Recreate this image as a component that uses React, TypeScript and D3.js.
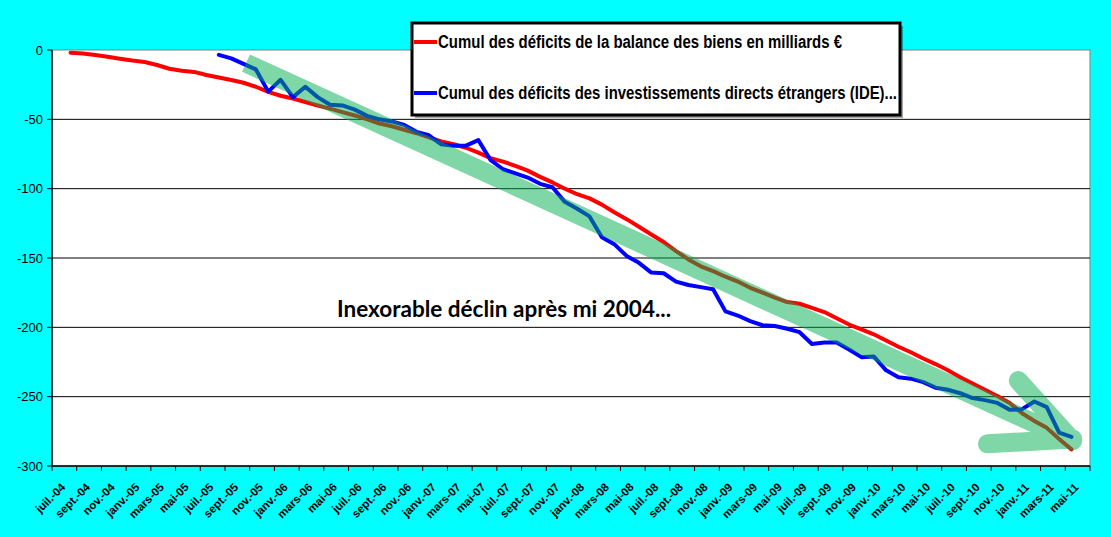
import React from "react";
import * as d3 from "d3";

// month abbreviations as Excel (fr) prints them
const monthNames = ["janv.", "févr.", "mars", "avr.", "mai", "juin", "juil.", "août", "sept.", "oct.", "nov.", "déc."];
const firstYear = 2004;
const firstMonth = 6; // juil.
const monthCount = 84; // juil.-04 .. juin-11

const categories: string[] = [];
for (let k = 0; k < monthCount; k++) {
  const m = (firstMonth + k) % 12;
  const y = firstYear + Math.floor((firstMonth + k) / 12);
  categories.push(`${monthNames[m]}-${String(y).slice(2)}`);
}

const yTicks = [0, -50, -100, -150, -200, -250, -300];

// cumul balance des biens, from août-04
const redStart = 1;
const redValues = [
  -1.9, -2.6, -3.6, -4.8, -6.3, -7.6, -8.7, -10.8, -13.5, -14.9,
  -15.8, -18, -19.8, -21.6, -23.6, -26.5, -30.2, -33, -35, -37.5,
  -40, -42.3, -44.8, -47.2, -50, -53, -55, -57.5, -60, -63,
  -66, -68, -70.5, -74, -78, -80.5, -83.5, -87, -91.5, -95.5,
  -100, -104, -107, -111.5, -117, -122, -127.5, -133, -138.5, -145,
  -151, -156, -159.5, -163.5, -167, -171.5, -175, -178.5, -181.8, -183,
  -186, -189, -193.5, -198, -201.5, -205, -209.5, -214, -218, -222.5,
  -226.5, -231, -236, -240.5, -245, -249.5, -254.5, -262, -267.5, -272.5,
  -280.5, -288,
];

// cumul IDE, from août-05
const blueStart = 13;
const blueValues = [
  -3.5, -6, -10, -14, -30, -21.5, -34, -26.5, -34, -39.5,
  -40, -43, -47.5, -50, -51.5, -54, -59, -61.5, -68, -69,
  -69, -65, -79.5, -86, -89, -92, -96.5, -99, -109.5, -114.5,
  -120, -135, -140, -148.5, -153.5, -160.5, -161, -167, -169.5, -171,
  -172.5, -188.5, -191.5, -195.5, -198.5, -199, -201, -203.5, -212, -211,
  -211, -216, -221.5, -221, -231, -236, -237, -239.5, -243.5, -245,
  -247.5, -251, -252.5, -254.5, -259.5, -259, -253.5, -257.5, -276, -279,
];

const seriesNames = [
  "Cumul des déficits de la balance des biens en milliards €",
  "Cumul des déficits des investissements directs étrangers (IDE)...",
];
const seriesColors = ["#ff0000", "#0000ff"];
const legendWidths = [404, 459]; // rendered widths of the legend labels

// trend arrow annotation, in (category index, value)
const arrowShaft = [[15.2, -9.4], [82.1, -281.8]];
const arrowArms = [[[77.7, -238.4], [82.1, -281.8]], [[75.2, -284], [82.1, -280.5]]];

const W = 1111;
const H = 537;
const plot = { left: 52, right: 1090, top: 50, bottom: 466 };

export default function App() {
  const x = d3.scaleBand<number>().domain(d3.range(monthCount)).range([plot.left, plot.right]).padding(0);
  const bw = x.bandwidth();
  const xc = (i: number) => plot.left + (i + 0.5) * bw;
  const y = d3.scaleLinear().domain([-300, 0]).range([plot.bottom, plot.top]);

  const line = d3
    .line<[number, number]>()
    .x((d) => xc(d[0]))
    .y((d) => y(d[1]));

  const red = redValues.map((v, k) => [redStart + k, v] as [number, number]);
  const blue = blueValues.map((v, k) => [blueStart + k, v] as [number, number]);

  const ax = "'Liberation Sans', Arial, sans-serif";

  return (
    <svg width={W} height={H} style={{ position: "absolute", left: 0, top: 0, display: "block" }}>
      <rect x={0} y={0} width={W} height={H} fill="#00ffff" />
      <rect x={plot.left} y={plot.top} width={plot.right - plot.left} height={plot.bottom - plot.top} fill="#fff" stroke="#808080" strokeWidth={1} />

      {/* gridlines */}
      {yTicks.filter((t) => t !== 0 && t !== -300).map((t) => (
        <line key={t} x1={plot.left} x2={plot.right} y1={y(t)} y2={y(t)} stroke="#000" strokeWidth={1} />
      ))}

      {/* y axis */}
      <line x1={plot.left} x2={plot.left} y1={plot.top} y2={plot.bottom} stroke="#000" strokeWidth={1.5} />
      {yTicks.map((t) => (
        <g key={t}>
          <line x1={plot.left - 5} x2={plot.left} y1={y(t)} y2={y(t)} stroke="#000" />
          <text x={plot.left - 9} y={y(t)} dy="0.35em" textAnchor="end" fontFamily={ax} fontSize={13}>
            {t}
          </text>
        </g>
      ))}

      {/* x axis */}
      <line x1={plot.left} x2={plot.right} y1={plot.bottom} y2={plot.bottom} stroke="#000" strokeWidth={1.5} />
      {d3.range(0, monthCount + 1, 2).map((i) => (
        <line key={i} x1={plot.left + i * bw} x2={plot.left + i * bw} y1={plot.bottom} y2={plot.bottom + 5} stroke="#000" />
      ))}
      {categories.map((c, i) =>
        i % 2 === 0 ? (
          <text
            key={c}
            transform={`translate(${xc(i) + 5},${plot.bottom + 19}) rotate(-45)`}
            textAnchor="end"
            dy="0.35em"
            fontFamily={ax}
            fontWeight="bold"
            fontSize={11.5}
          >
            {c}
          </text>
        ) : null,
      )}

      {/* series */}
      <path d={line(red) || ""} fill="none" stroke={seriesColors[0]} strokeWidth={4} strokeLinejoin="round" strokeLinecap="round" />
      <path d={line(blue) || ""} fill="none" stroke={seriesColors[1]} strokeWidth={4} strokeLinejoin="round" strokeLinecap="round" />

      {/* trend arrow */}
      <g opacity={0.5}>
        <line
          x1={xc(arrowShaft[0][0])}
          y1={y(arrowShaft[0][1])}
          x2={xc(arrowShaft[1][0])}
          y2={y(arrowShaft[1][1])}
          stroke="#01b151"
          strokeWidth={19}
          strokeLinecap="butt"
        />
        {arrowArms.map((a, k) => (
          <line
            key={k}
            x1={xc(a[0][0])}
            y1={y(a[0][1])}
            x2={xc(a[1][0])}
            y2={y(a[1][1])}
            stroke="#01b151"
            strokeWidth={19}
            strokeLinecap="round"
          />
        ))}
      </g>

      <text x={337} y={317} fontFamily="Lato, 'Open Sans', sans-serif" fontWeight="bold" fontSize={22} textLength={334} lengthAdjust="spacingAndGlyphs">
        Inexorable déclin après mi 2004...
      </text>

      {/* legend */}
      <rect x={415} y={26} width={488} height={92} fill="#000" opacity={0.35} />
      <rect x={412} y={23} width={488} height={92} fill="#fff" stroke="#000" strokeWidth={3} />
      {seriesNames.map((n, k) => (
        <g key={n}>
          <line x1={414} x2={437} y1={42 + k * 51} y2={42 + k * 51} stroke={seriesColors[k]} strokeWidth={4} />
          <text
            x={438}
            y={42 + k * 51}
            dy="0.36em"
            fontFamily={ax}
            fontWeight="bold"
            fontSize={18}
            textLength={legendWidths[k]}
            lengthAdjust="spacingAndGlyphs"
          >
            {n}
          </text>
        </g>
      ))}
    </svg>
  );
}
